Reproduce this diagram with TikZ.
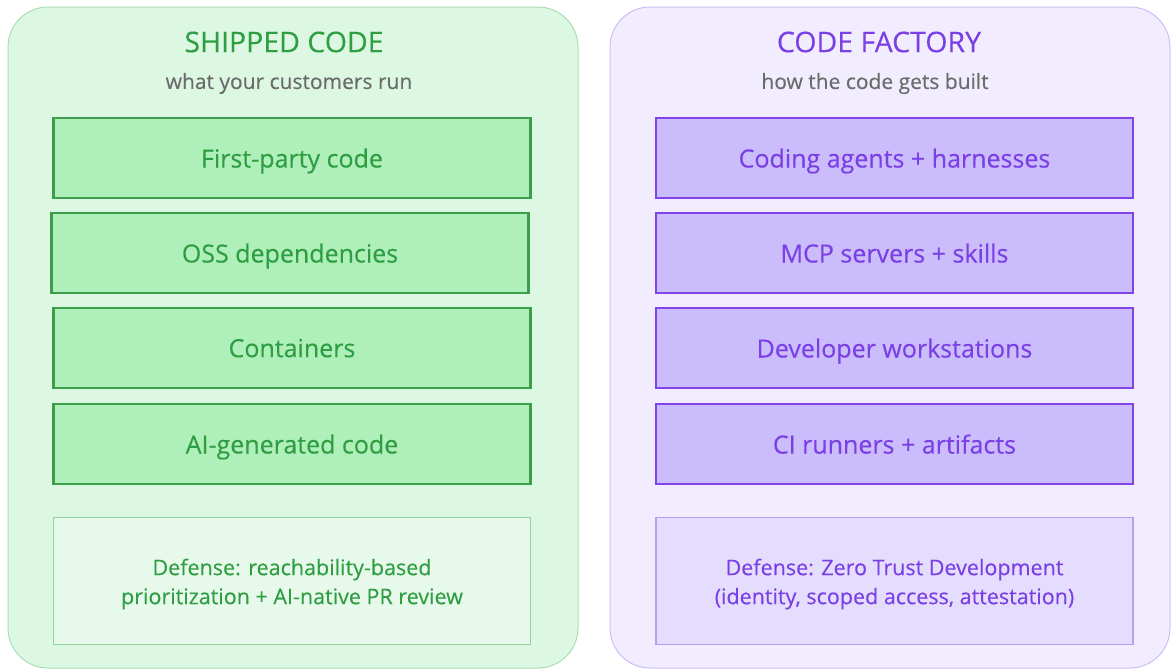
\documentclass[tikz,border=0pt]{standalone}
\usepackage{fontspec}
\setmainfont[FakeBold=0.3]{Open Sans}
\definecolor{gpanel}{HTML}{DDF8E2}
\definecolor{gpanelb}{HTML}{A9DFB2}
\definecolor{gbox}{HTML}{AEEFBA}
\definecolor{gboxb}{HTML}{3C9E4C}
\definecolor{gtext}{HTML}{2F9E43}
\definecolor{gdef}{HTML}{E7F9EA}
\definecolor{gdefb}{HTML}{92D49C}
\definecolor{ppanel}{HTML}{F2EDFE}
\definecolor{ppanelb}{HTML}{CFBEF6}
\definecolor{pbox}{HTML}{CBBDFB}
\definecolor{pboxb}{HTML}{8243E9}
\definecolor{ptext}{HTML}{7B3FE6}
\definecolor{pdef}{HTML}{E5DDFD}
\definecolor{pdefb}{HTML}{B89CF5}
\definecolor{subgray}{HTML}{6B6B6B}
\tikzset{
  panel/.style={rounded corners=40pt, line width=1pt},
  layerbox/.style={minimum width=477pt, minimum height=80pt, line width=2.2pt, inner sep=0pt, text depth=0pt, font=\fontsize{25}{28}\selectfont},
  defbox/.style={minimum width=477pt, minimum height=127pt, line width=1.2pt, inner sep=0pt, align=center, font=\fontsize{21.5}{29}\selectfont},
  ttl/.style={font=\fontsize{28.5}{32}\selectfont},
  sub/.style={font=\fontsize{21}{24}\selectfont, text=subgray},
}
\begin{document}
\begin{tikzpicture}[x=1pt,y=-1pt]
\useasboundingbox (0,0) rectangle (1172,670);
% panels
\draw[panel, fill=gpanel, draw=gpanelb] (8,7) rectangle (578,668);
\draw[panel, fill=ppanel, draw=ppanelb] (610,7) rectangle (1170,668);
% left
\node[ttl, text=gtext] (lt) at (284,42) {SHIPPED CODE};
\node[sub] (ls) at (289,83.5) {what your customers run};
\node[layerbox, fill=gbox, draw=gboxb, text=gtext] (l1) at (292,158) {First-party code};
\node[layerbox, fill=gbox, draw=gboxb, text=gtext] (l2) at (290,253) {OSS dependencies};
\node[layerbox, fill=gbox, draw=gboxb, text=gtext] (l3) at (292,348) {Containers};
\node[layerbox, fill=gbox, draw=gboxb, text=gtext] (l4) at (292,444) {AI-generated code};
\node[defbox, fill=gdef, draw=gdefb, text=gtext] (l5) at (292,581) {};
\node[align=center, font=\fontsize{21.5}{29}\selectfont, text=gtext] (l5t) at (292,584) {Defense: reachability-based\\prioritization + AI-native PR review};
% right
\node[ttl, text=ptext] (rt) at (879,42) {CODE FACTORY};
\node[sub] (rs) at (875,83.5) {how the code gets built};
\node[layerbox, fill=pbox, draw=pboxb, text=ptext] (r1) at (894.5,158) {Coding agents + harnesses};
\node[layerbox, fill=pbox, draw=pboxb, text=ptext] (r2) at (894.5,253) {MCP servers + skills};
\node[layerbox, fill=pbox, draw=pboxb, text=ptext] (r3) at (894.5,348) {Developer workstations};
\node[layerbox, fill=pbox, draw=pboxb, text=ptext] (r4) at (894.5,444) {CI runners + artifacts};
\node[defbox, fill=pdef, draw=pdefb, text=ptext] (r5) at (894.5,581) {};
\node[align=center, font=\fontsize{21.5}{29}\selectfont, text=ptext] (r5t) at (894.5,584) {Defense: Zero Trust Development\\(identity, scoped access, attestation)};
\end{tikzpicture}
\end{document}
